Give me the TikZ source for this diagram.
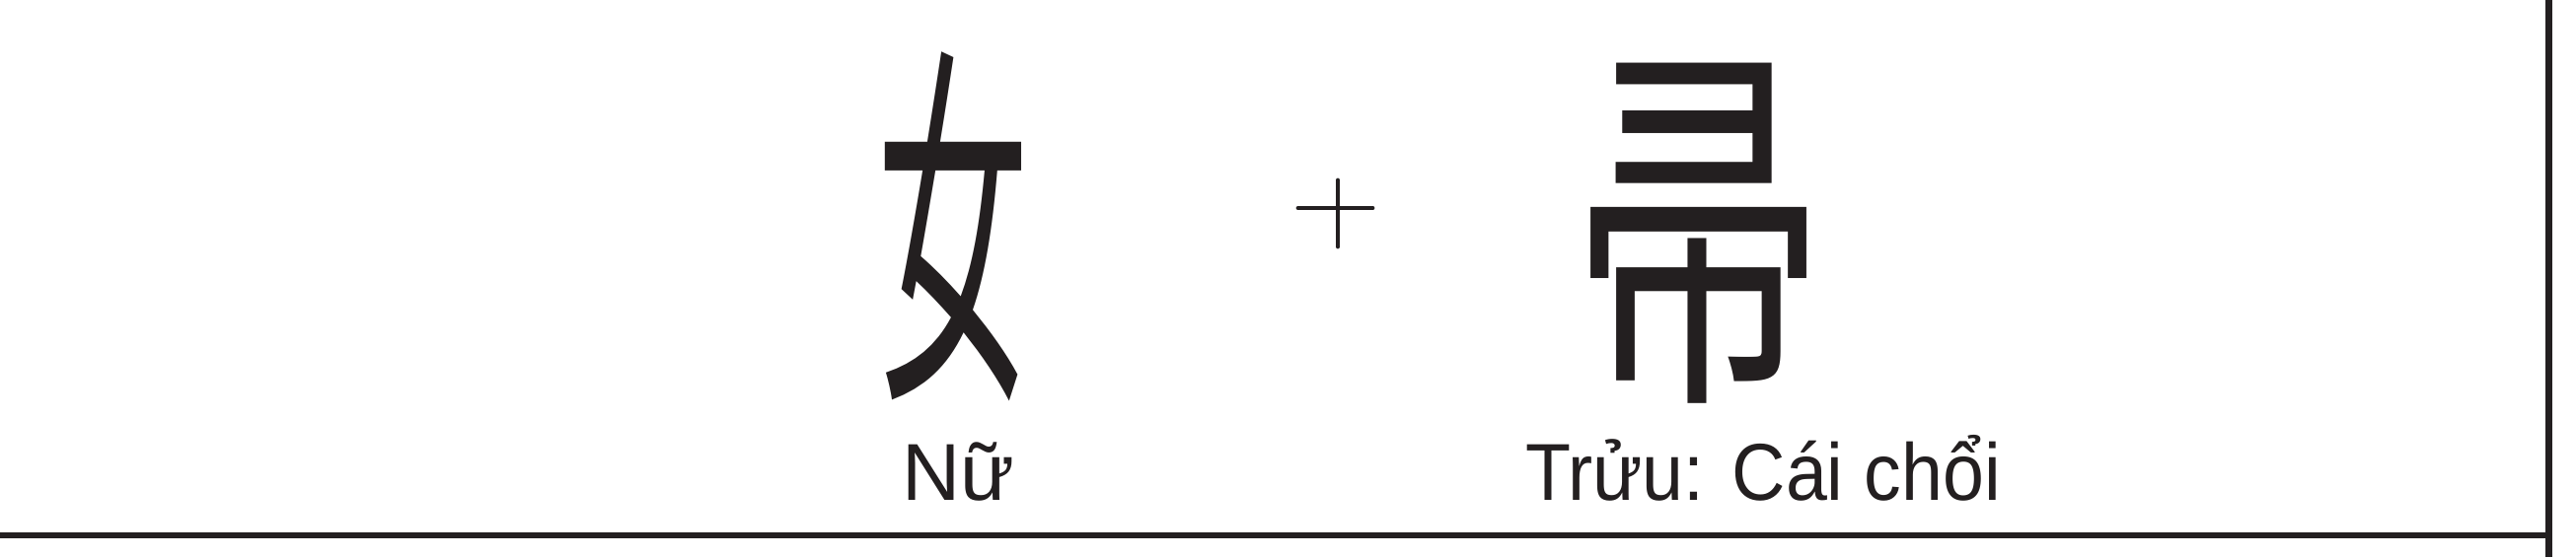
\documentclass[tikz,border=0pt]{standalone}
\usepackage{fontspec}
\setmainfont{Liberation Sans}
\newfontfamily\cjksc{Noto Sans CJK SC}
\newfontfamily\cjkjp{Noto Sans CJK JP}
\usepackage{tikz}
\usetikzlibrary{positioning}
\definecolor{inkgray}{RGB}{35,31,32}
\tikzset{hanzi/.style={inner sep=0pt, anchor=base, text=inkgray}}
\tikzset{caption/.style={inner sep=0pt, anchor=base, text=inkgray, font=\fontsize{23.3}{28}\selectfont}}

\begin{document}
\begin{tikzpicture}
\useasboundingbox (0,0) rectangle (26.11,5.65);
% frame
\coordinate (corner) at (25.83,0.22);
\draw[inkgray, line width=1.9pt] (0,0.22) -- (corner);
\draw[inkgray, line width=2pt] (25.83,0) -- (25.83,5.65);
% characters
\node[hanzi, font=\cjkjp\fontsize{109}{110}\selectfont] (nu) at (9.66,1.91) {\scalebox{0.40}[1]{女}};
\node[hanzi, font=\cjksc\fontsize{111}{111}\selectfont] (chou) at (17.21,1.87) {\scalebox{0.66}[1]{帚}};
\draw[inkgray, line width=1.4pt, line cap=round] (13.16,3.54) -- (13.91,3.54);
\draw[inkgray, line width=1.4pt, line cap=round] (13.56,3.82) -- (13.56,3.15);
% labels
\node[caption] (nulabel) at (9.71,0.58) {Nữ};
\node[caption] (choulabel) at (17.87,0.58) {\scalebox{0.92}[1]{Trửu: Cái chổi}};
\end{tikzpicture}
\end{document}
